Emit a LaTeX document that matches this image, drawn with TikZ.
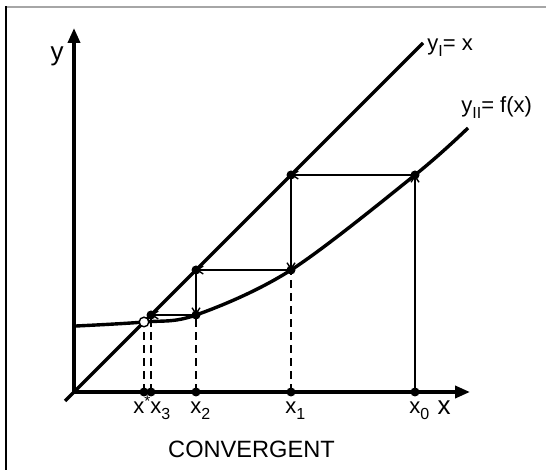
\documentclass[tikz,border=0pt]{standalone}
\usepackage{fontspec}
\setmainfont{Liberation Sans}
\usetikzlibrary{arrows.meta,positioning}
\newcommand{\lowsub}[1]{\raisebox{-0.5ex}{\fontsize{8}{9}\selectfont #1}}

\begin{document}
\begin{tikzpicture}[
  x=0.5pt,y=0.5pt,
  font=\fontsize{11}{13}\selectfont,
  axis/.style={line width=1.8pt,-{Triangle[length=7.5pt,width=6pt]}},
  graph/.style={line width=1.7pt},
  stair/.style={line width=0.7pt,-{Straight Barb[length=3pt,width=4pt]}},
  proj/.style={line width=0.9pt,dash pattern=on 4pt off 2.5pt},
  dot/.style={circle,fill=black,inner sep=0pt,minimum size=4.5pt},
  fixpt/.style={circle,draw=black,fill=white,line width=0.7pt,inner sep=0pt,minimum size=4.8pt},
  lbl/.style={inner sep=0pt,anchor=base west},
  axlbl/.style={inner sep=0pt,anchor=base,font=\fontsize{13}{15}\selectfont}
]
\useasboundingbox (-74,-78) rectangle (472,392);
% frame
\draw[gray!70,line width=1pt] (-68,385) -- (472,385);
\draw[line width=1pt] (-68,385.5) -- (-68,-78);

% axes
\coordinate (O) at (0,0);
\coordinate (ytip) at (0,364);
\coordinate (xtip) at (396,0);
\draw[axis] (O) -- (ytip);
\draw[axis] (O) -- (xtip);
\node[axlbl] (ylab) at (-17,331) {y};
\node[axlbl] (xlab) at (370,-23) {x};

% the two graphs
\coordinate (dA) at (-9,-9);
\coordinate (dB) at (349,349);
\draw[graph] (dA) -- (dB);
\draw[graph] plot[smooth,tension=0.55] coordinates
  {(2,66) (70,70) (122,77) (217,122) (341,217) (394,264)};
\node[lbl] (lblI) at (353,341) {y\lowsub{I}= x};
\node[lbl] (lblII) at (387,279) {y\lowsub{II}= f(x)};

% iterates on the axis and on the graphs
\coordinate (a0) at (341,0);
\coordinate (a1) at (217,0);
\coordinate (a2) at (122,0);
\coordinate (a3) at (77,0);
\coordinate (as) at (70,0);
\coordinate (c0) at (341,217);
\coordinate (l1) at (217,217);
\coordinate (c1) at (217,122);
\coordinate (l2) at (122,122);
\coordinate (c2) at (122,77);
\coordinate (l3) at (77,77);
\coordinate (fp) at (70,70);

% dashed drops to the axis
\draw[proj] (as) -- (fp);
\draw[proj] (a3) -- (l3);
\draw[proj] (a2) -- (c2);
\draw[proj] (a1) -- (c1);

% staircase
\draw[stair] (a0) -- (c0);
\draw[stair] (c0) -- (l1);
\draw[stair] (l1) -- (c1);
\draw[stair] (c1) -- (l2);
\draw[stair] (l2) -- (c2);
\draw[stair] (c2) -- (l3);

\node[dot] (d0) at (a0) {};
\node[dot] (d1) at (a1) {};
\node[dot] (d2) at (a2) {};
\node[dot] (d3) at (a3) {};
\node[dot] (ds) at (as) {};
\node[dot] (e0) at (c0) {};
\node[dot] (e1) at (l1) {};
\node[dot] (e2) at (c1) {};
\node[dot] (e3) at (l2) {};
\node[dot] (e4) at (c2) {};
\node[dot] (e5) at (l3) {};
\node[fixpt] (star) at (fp) {};

\node[lbl] (tx0) at (335,-22) {x\lowsub{0}};
\node[lbl] (tx1) at (211,-22) {x\lowsub{1}};
\node[lbl] (tx2) at (116,-22) {x\lowsub{2}};
\node[lbl] (tx3) at (76,-22) {x\lowsub{3}};
\node[lbl] (txs) at (59,-22) {x\textsuperscript{*}};

\node[anchor=base,inner sep=0pt,font=\fontsize{11.8}{14}\selectfont] (title) at (177.5,-66) {CONVERGENT};
\end{tikzpicture}
\end{document}
